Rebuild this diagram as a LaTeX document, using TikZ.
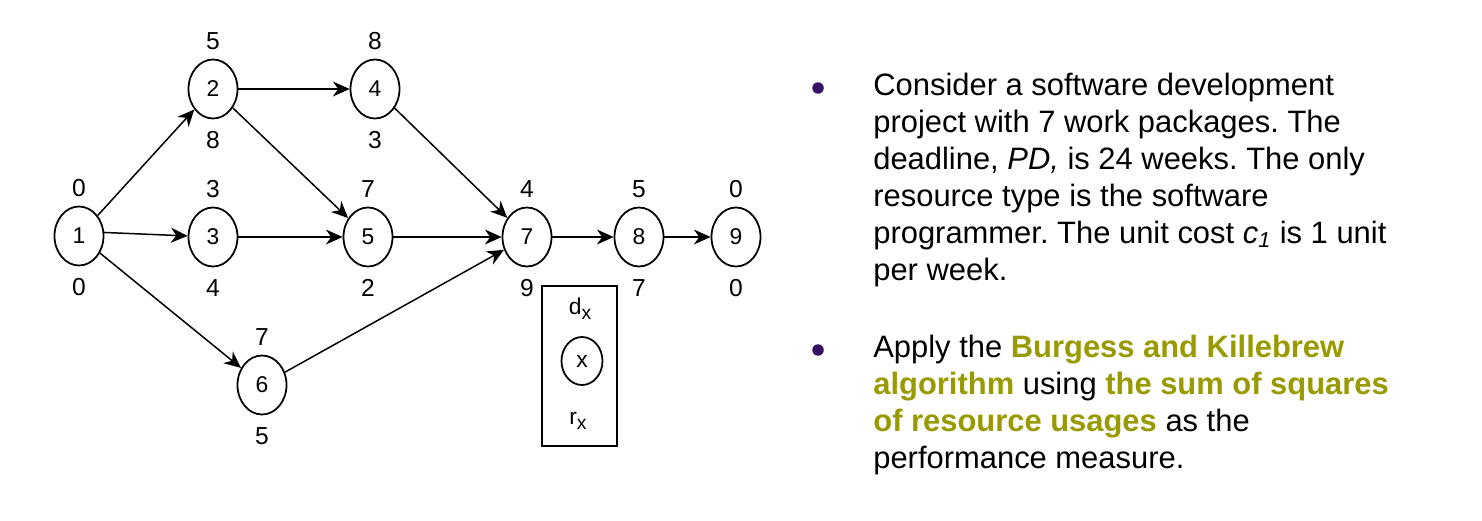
\documentclass[tikz,border=0pt]{standalone}
\usepackage{fontspec}
\setmainfont{Liberation Sans}
\usepackage{xcolor}
\usetikzlibrary{arrows.meta}
\usetikzlibrary{shapes.geometric}
\definecolor{bulletpurple}{RGB}{55,15,100}
\definecolor{algolive}{RGB}{153,153,0}
\newcommand{\hlbold}[1]{\textbf{\textcolor{algolive}{#1}}}
\newcommand{\keysub}[1]{\raisebox{-0.45ex}{\fontsize{11}{13}\selectfont #1}}
\frenchspacing

\begin{document}
\begin{tikzpicture}[x=0.02cm,y=-0.02cm,
		event/.style={ellipse, draw, line width=1pt, inner sep=0pt, minimum width=0.98cm, minimum height=1.18cm, font=\fontsize{13}{15}\selectfont},
		lbl/.style={inner sep=0pt, font=\fontsize{14}{16}\selectfont},
		arr/.style={line width=0.85pt, -{Stealth[length=9.5pt,width=8.5pt,inset=3pt]}},
		txt/.style={anchor=north west, inner sep=0pt, align=left, font=\fontsize{17.6}{21}\selectfont}]
		\useasboundingbox (0,0) rectangle (1482,521);

		% Events with their two labels
		\foreach \n/\x/\y/\t/\b in {1/79/236/0/0, 2/213/89/5/8, 3/213/237/3/4, 4/375/89/8/3, 5/368/237/7/2, 6/262/385/7/5, 7/527/237/4/9, 8/639/237/5/7, 9/736/237/0/0}
		{
			\node (n\n) at (\x,\y) [event] {\n};
			\node (t\n) at (\x,\y-48) [lbl] {\t};
			\node (b\n) at (\x,\y+51) [lbl] {\b};
		}

		% Precedence relations
		\draw [arr] (n1) -- (n2);
		\draw [arr] (n1.8) -- (n3);
		\draw [arr] (n1) -- (n6);
		\draw [arr] (n2) -- (n4);
		\draw [arr] (n2) -- (n5);
		\draw [arr] (n3) -- (n5);
		\draw [arr] (n4) -- (n7);
		\draw [arr] (n5) -- (n7);
		\draw [arr] (n6) -- (n7);
		\draw [arr] (n7) -- (n8);
		\draw [arr] (n8) -- (n9);

		% Key
		\node (key) at (579.5,366) [rectangle, draw, line width=1pt, minimum width=1.5cm, minimum height=3.2cm] {};
		\node (keyx) at (582,361) [ellipse, draw, line width=1pt, inner sep=0pt, minimum width=0.82cm, minimum height=0.96cm, font=\fontsize{13}{15}\selectfont] {x};
		\node (keyd) at (580,309) [lbl, font=\fontsize{13}{15}\selectfont] {d\keysub{x}};
		\node (keyr) at (578,421) [lbl, font=\fontsize{13}{15}\selectfont] {r\keysub{x}};

		% Problem statement
		\node (bul1) at (818,88) [circle, fill=bulletpurple, inner sep=0pt, minimum size=0.23cm] {};
		\node (para1) at (873,73) [txt] {Consider a software development\\
			project with 7 work packages. The\\
			deadline, \textit{PD,} is 24 weeks. The only\\
			resource type is the software\\
			programmer. The unit cost \textit{c\textsubscript{1}} is 1 unit\\
			per week.};
		\node (bul2) at (818,350) [circle, fill=bulletpurple, inner sep=0pt, minimum size=0.23cm] {};
		\node (para2) at (873,335) [txt] {Apply the \hlbold{Burgess and Killebrew}\\
			\hlbold{algorithm} using \hlbold{the sum of squares}\\
			\hlbold{of resource usages} as the\\
			performance measure.};
	\end{tikzpicture}
\end{document}
